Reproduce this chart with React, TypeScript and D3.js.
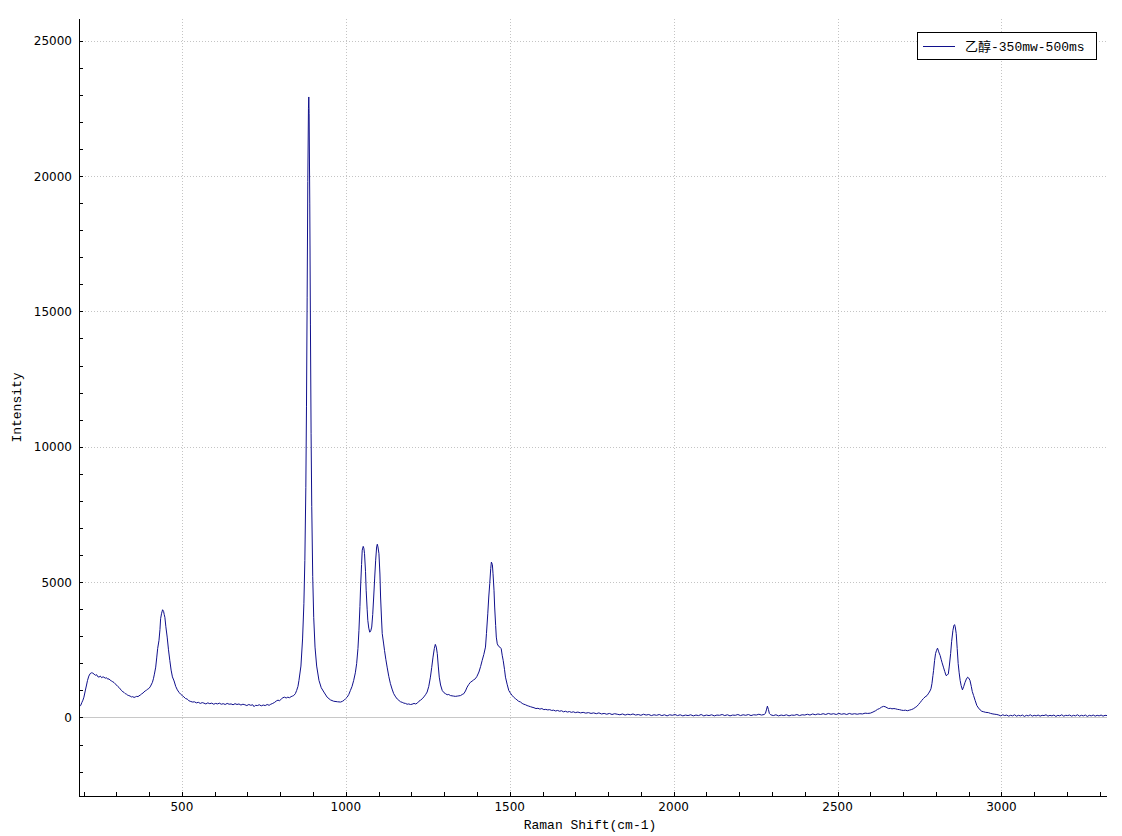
import React from "react";
import * as d3 from "d3";

const xTickValues = [500, 1000, 1500, 2000, 2500, 3000];
const yTickValues = [0, 5000, 10000, 15000, 20000, 25000];
const seriesName = "乙醇-350mw-500ms";
const xTitle = "Raman Shift(cm-1)";
const yTitle = "Intensity";

// [Raman shift (cm-1), intensity]
const spectrum: [number, number][] = [
  [188, 420], [191, 440], [195, 560], [198, 640], [201, 750], [205, 980], [209, 1200], [212, 1370], [216, 1530], [220, 1620],
  [224, 1650], [228, 1640], [232, 1600], [236, 1560], [240, 1580], [243, 1510], [247, 1490], [251, 1530], [255, 1470], [259, 1500],
  [262, 1490], [266, 1450], [270, 1470], [274, 1410], [277, 1430], [281, 1380], [285, 1350], [289, 1320], [293, 1290], [297, 1240],
  [300, 1200], [304, 1150], [308, 1110], [312, 1050], [316, 990], [320, 950], [323, 930], [327, 880], [331, 860], [335, 820],
  [338, 810], [342, 790], [346, 760], [350, 770], [354, 740], [358, 760], [362, 780], [366, 770], [369, 800], [373, 830],
  [377, 870], [381, 900], [384, 940], [388, 980], [392, 1010], [396, 1050], [399, 1070], [403, 1130], [406, 1200], [410, 1300],
  [413, 1430], [416, 1600], [420, 1860], [423, 2200], [426, 2550], [430, 2850], [433, 3250], [435, 3650], [438, 3850], [441, 3980],
  [444, 3920], [446, 3800], [448, 3700], [451, 3350], [455, 2970], [459, 2500], [463, 2110], [467, 1750], [471, 1500], [476, 1350],
  [481, 1150], [486, 1020], [491, 930], [496, 860], [501, 810], [506, 760], [511, 700], [516, 680],
  [521, 620], [527, 590], [533, 570], [538, 580], [544, 540], [550, 560], [556, 520], [562, 550], [567, 530], [573, 500],
  [579, 540], [585, 510], [591, 530], [597, 490], [603, 520], [609, 500], [614, 530], [620, 490], [626, 510], [632, 480],
  [638, 520], [644, 490], [650, 500], [656, 470], [662, 510], [668, 480], [674, 500], [680, 460], [686, 490], [692, 470],
  [698, 440], [704, 480], [710, 450], [716, 470], [720, 400], [724, 450], [730, 440], [736, 470], [742, 430], [748, 460],
  [754, 440], [760, 480], [766, 450], [771, 490], [777, 520], [783, 560], [788, 610], [793, 640], [798, 620], [803, 680],
  [808, 730], [813, 750], [818, 720], [823, 750], [828, 730], [833, 770], [837, 790], [841, 810], [846, 880], [850, 1000],
  [854, 1150], [857, 1370], [863, 1900], [868, 2900], [872, 4200], [875, 5800], [878, 8500], [880, 11500], [882, 15500], [884, 19800],
  [886, 22500], [887, 22920], [888, 22300], [890, 19000], [892, 14500], [894, 10500], [896, 7800], [899, 5200], [902, 3700], [906, 2600],
  [911, 1900], [918, 1370], [925, 1100], [933, 940], [943, 750], [953, 650], [963, 600], [975, 580],
  [984, 570], [990, 600], [995, 640], [999, 690], [1004, 750], [1009, 850], [1014, 1000], [1019, 1150], [1024, 1370], [1029, 1650],
  [1033, 1990], [1037, 2550], [1040, 3220], [1043, 4100], [1045, 4820], [1048, 5650], [1050, 6180], [1053, 6320], [1055, 6250], [1057, 6050],
  [1060, 5400], [1062, 4700], [1065, 4000], [1067, 3590], [1070, 3300], [1073, 3150], [1076, 3200], [1079, 3340], [1082, 3800], [1085, 4450],
  [1088, 5150], [1091, 5810], [1094, 6300], [1096, 6400], [1098, 6300], [1101, 6050], [1104, 5300], [1106, 4450], [1109, 3600], [1111, 3100],
  [1115, 2750], [1118, 2480], [1122, 2150], [1126, 1860], [1131, 1520], [1136, 1250], [1141, 1050], [1146, 880], [1152, 760], [1157, 680],
  [1162, 630], [1167, 580], [1172, 560], [1177, 530], [1182, 520], [1187, 490], [1192, 500], [1197, 480], [1202, 490], [1208, 520],
  [1213, 500], [1218, 530], [1223, 600], [1228, 640], [1233, 690], [1238, 760], [1243, 840], [1248, 940], [1253, 1150], [1258, 1490],
  [1262, 1850], [1266, 2230], [1270, 2550], [1273, 2700], [1276, 2600], [1279, 2360], [1282, 1900], [1285, 1490], [1289, 1200], [1294, 1000],
  [1299, 920], [1304, 880], [1309, 840], [1314, 850], [1319, 810], [1324, 800], [1329, 790], [1334, 780], [1340, 790], [1345, 800],
  [1350, 810], [1355, 850], [1360, 880], [1365, 980], [1370, 1120], [1375, 1220], [1380, 1300], [1385, 1340], [1390, 1390], [1395, 1430],
  [1400, 1520], [1406, 1680], [1411, 1880], [1416, 2110], [1421, 2330], [1426, 2600], [1429, 3100], [1433, 3830], [1436, 4450], [1439, 4940],
  [1442, 5500], [1444, 5740], [1447, 5650], [1449, 5310], [1452, 4700], [1454, 4080], [1457, 3400], [1459, 2970], [1462, 2720], [1466, 2630],
  [1470, 2600], [1474, 2540], [1477, 2300], [1480, 2110], [1484, 1780], [1487, 1490], [1492, 1230], [1497, 1000], [1502, 900], [1507, 820],
  [1512, 750], [1517, 700], [1522, 650], [1527, 600], [1533, 570], [1538, 520], [1543, 490], [1548, 470], [1553, 440], [1558, 420],
  [1563, 400], [1568, 380],
  [1574, 360], [1580, 330], [1586, 340], [1592, 310], [1598, 330], [1604, 290], [1610, 300], [1616, 280], [1622, 290], [1628, 260],
  [1634, 270], [1640, 240], [1646, 260], [1652, 230], [1658, 250], [1664, 210], [1670, 230], [1676, 200], [1682, 220], [1688, 190],
  [1694, 210], [1700, 180], [1708, 200], [1716, 170], [1724, 190], [1732, 160], [1740, 180], [1748, 150], [1756, 170], [1764, 140],
  [1772, 170], [1780, 130], [1788, 150], [1796, 120], [1804, 150], [1812, 110], [1820, 140], [1828, 120], [1836, 100], [1844, 130],
  [1852, 90], [1860, 120], [1868, 100], [1876, 130], [1884, 90], [1892, 110], [1900, 80], [1908, 120], [1916, 90], [1924, 110],
  [1932, 70], [1940, 100], [1948, 80], [1956, 110], [1964, 70], [1972, 100], [1980, 60], [1988, 100], [1996, 80], [2004, 110],
  [2012, 70], [2020, 100], [2028, 60], [2036, 90], [2044, 70], [2052, 100], [2060, 60], [2068, 90], [2076, 70], [2084, 110],
  [2092, 60], [2100, 90], [2108, 70], [2116, 100], [2124, 60], [2132, 90], [2140, 80], [2148, 110], [2156, 70], [2164, 100],
  [2172, 60], [2180, 90], [2188, 80], [2196, 110], [2204, 70], [2212, 100], [2220, 80], [2228, 110], [2236, 70], [2244, 100],
  [2252, 90], [2260, 120], [2268, 90], [2276, 110], [2280, 150], [2283, 280], [2286, 420], [2289, 300], [2292, 150], [2296, 100],
  [2304, 70], [2312, 100], [2320, 60], [2328, 90], [2336, 70], [2344, 100], [2352, 60], [2360, 90], [2368, 80], [2376, 110],
  [2384, 70], [2392, 100], [2400, 90], [2408, 120], [2416, 90], [2424, 130], [2432, 100], [2440, 130], [2448, 110], [2456, 140],
  [2464, 110], [2472, 150], [2480, 120], [2488, 140], [2496, 110], [2504, 150], [2512, 120], [2520, 140], [2528, 110], [2536, 150],
  [2544, 120], [2552, 140], [2560, 120], [2568, 140],
  [2576, 130], [2584, 160], [2592, 150], [2600, 160], [2608, 200], [2616, 250], [2622, 300], [2628, 330], [2634, 380], [2640, 410],
  [2645, 400], [2651, 360], [2656, 330], [2661, 340], [2666, 320], [2672, 330], [2677, 320], [2683, 300], [2689, 290], [2695, 270],
  [2701, 260], [2707, 270], [2713, 250], [2719, 270], [2725, 290], [2731, 320], [2737, 370], [2742, 410], [2747, 480], [2752, 550],
  [2757, 630], [2762, 700], [2767, 760], [2773, 810], [2778, 900], [2782, 980], [2785, 1060], [2788, 1250], [2791, 1550], [2793, 1740],
  [2796, 2100], [2799, 2360], [2802, 2480], [2805, 2560], [2808, 2450], [2810, 2380], [2813, 2290], [2816, 2150], [2819, 2020], [2823, 1860],
  [2827, 1700], [2831, 1550], [2834, 1560], [2838, 1610], [2841, 1900], [2845, 2360], [2848, 2800], [2852, 3220], [2855, 3400], [2857, 3430],
  [2859, 3350], [2862, 3100], [2865, 2550], [2868, 1990], [2871, 1650], [2874, 1370], [2877, 1180], [2881, 1020], [2885, 1150], [2889, 1300],
  [2893, 1420], [2897, 1490], [2900, 1460], [2904, 1370], [2908, 1150], [2911, 960], [2915, 810], [2920, 620], [2925, 440], [2930, 350],
  [2935, 280], [2940, 230], [2946, 210], [2952, 190], [2960, 180], [2967, 150], [2974, 130], [2980, 120], [2986, 110],
  [2992, 90], [2998, 60], [3004, 100], [3010, 70], [3016, 90], [3022, 50], [3028, 80], [3034, 60], [3040, 100], [3046, 50],
  [3052, 80], [3058, 60], [3064, 90], [3070, 40], [3076, 80], [3082, 60], [3088, 100], [3094, 50], [3100, 80], [3106, 60],
  [3112, 90], [3118, 50], [3124, 80], [3130, 70], [3136, 100], [3142, 50], [3148, 80], [3154, 60], [3160, 90], [3166, 40],
  [3172, 80], [3178, 60], [3184, 100], [3190, 50], [3196, 80], [3202, 70], [3208, 90], [3214, 50], [3220, 80], [3226, 60],
  [3232, 100], [3238, 50], [3244, 80], [3250, 60], [3256, 90], [3262, 40], [3268, 80], [3274, 60], [3280, 90], [3286, 50],
  [3292, 80], [3298, 60], [3304, 90], [3310, 50], [3316, 80], [3322, 70],
];

const LINE_COLOR = "#10108c";
const TICK_FONT = "'DejaVu Sans', sans-serif";
const MONO_FONT = "'Liberation Mono', 'Noto Sans CJK SC', monospace";

export default function App() {
  const W = 1122;
  const H = 836;
  const left = 79;
  const right = 1107;
  const top = 19;
  const bottom = 796;

  const x = d3.scaleLinear().domain([186, 3322]).range([left, right]);
  const y = d3.scaleLinear().domain([-2900, 25800]).range([bottom, top]);
  const line = d3
    .line<[number, number]>()
    .x((d) => x(d[0]))
    .y((d) => y(d[1]));

  const minorX = d3.range(200, 3301, 100);
  const minorY = d3.range(-2000, 25001, 1000);

  return (
    <svg
      width={W}
      height={H}
      style={{ position: "absolute", left: 0, top: 0, background: "#fff" }}
    >
      <defs>
        <clipPath id="plotClip">
          <rect x={left} y={top} width={right - left} height={bottom - top} />
        </clipPath>
      </defs>
      <rect x={0} y={0} width={W} height={H} fill="#fff" />

      {/* grid */}
      {xTickValues.map((v) => (
        <line
          key={"gx" + v}
          x1={Math.round(x(v)) + 0.5}
          x2={Math.round(x(v)) + 0.5}
          y1={top}
          y2={bottom}
          stroke="#c4c4c4"
          strokeDasharray="1,2"
        />
      ))}
      {yTickValues
        .filter((v) => v !== 0)
        .map((v) => (
          <line
            key={"gy" + v}
            x1={left}
            x2={right}
            y1={Math.round(y(v)) + 0.5}
            y2={Math.round(y(v)) + 0.5}
            stroke="#c4c4c4"
            strokeDasharray="1,2"
          />
        ))}
      <line
        x1={left}
        x2={right}
        y1={Math.round(y(0)) + 0.5}
        y2={Math.round(y(0)) + 0.5}
        stroke="#c8c8c8"
        strokeWidth={1}
      />

      {/* data */}
      <path
        d={line(spectrum) || ""}
        fill="none"
        stroke={LINE_COLOR}
        strokeWidth={1}
        strokeLinejoin="round"
        clipPath="url(#plotClip)"
      />

      {/* axes */}
      <line x1={left + 0.5} x2={left + 0.5} y1={top} y2={bottom + 0.5} stroke="#000" />
      <line x1={left} x2={right} y1={bottom + 0.5} y2={bottom + 0.5} stroke="#000" />

      {minorX.map((v) => (
        <line
          key={"mx" + v}
          x1={Math.round(x(v)) + 0.5}
          x2={Math.round(x(v)) + 0.5}
          y1={bottom}
          y2={bottom - 4}
          stroke="#000"
        />
      ))}
      {minorY.map((v) => (
        <line
          key={"my" + v}
          x1={left}
          x2={left + 4}
          y1={Math.round(y(v)) + 0.5}
          y2={Math.round(y(v)) + 0.5}
          stroke="#000"
        />
      ))}

      {xTickValues.map((v) => (
        <text
          key={"tx" + v}
          x={x(v)}
          y={811}
          textAnchor="middle"
          fontFamily={TICK_FONT}
          fontSize={12}
          fill="#000"
        >
          {v}
        </text>
      ))}
      {yTickValues.map((v) => (
        <text
          key={"ty" + v}
          x={72}
          y={y(v) + 4.5}
          textAnchor="end"
          fontFamily={TICK_FONT}
          fontSize={12}
          fill="#000"
        >
          {v}
        </text>
      ))}

      {/* axis titles */}
      <text
        x={590}
        y={829}
        textAnchor="middle"
        fontFamily={MONO_FONT}
        fontSize={13}
        fill="#000"
      >
        {xTitle}
      </text>
      <text
        transform={`translate(21, ${(top + bottom) / 2}) rotate(-90)`}
        textAnchor="middle"
        fontFamily={MONO_FONT}
        fontSize={13}
        fill="#000"
      >
        {yTitle}
      </text>

      {/* legend */}
      <rect x={917.5} y={32.5} width={179} height={27} fill="#fff" stroke="#000" />
      <line x1={923} x2={955} y1={46.5} y2={46.5} stroke={LINE_COLOR} strokeWidth={1} />
      <text
        x={965}
        y={51}
        fontFamily={MONO_FONT}
        fontSize={13}
        fill="#000"
      >
        {seriesName}
      </text>
    </svg>
  );
}
